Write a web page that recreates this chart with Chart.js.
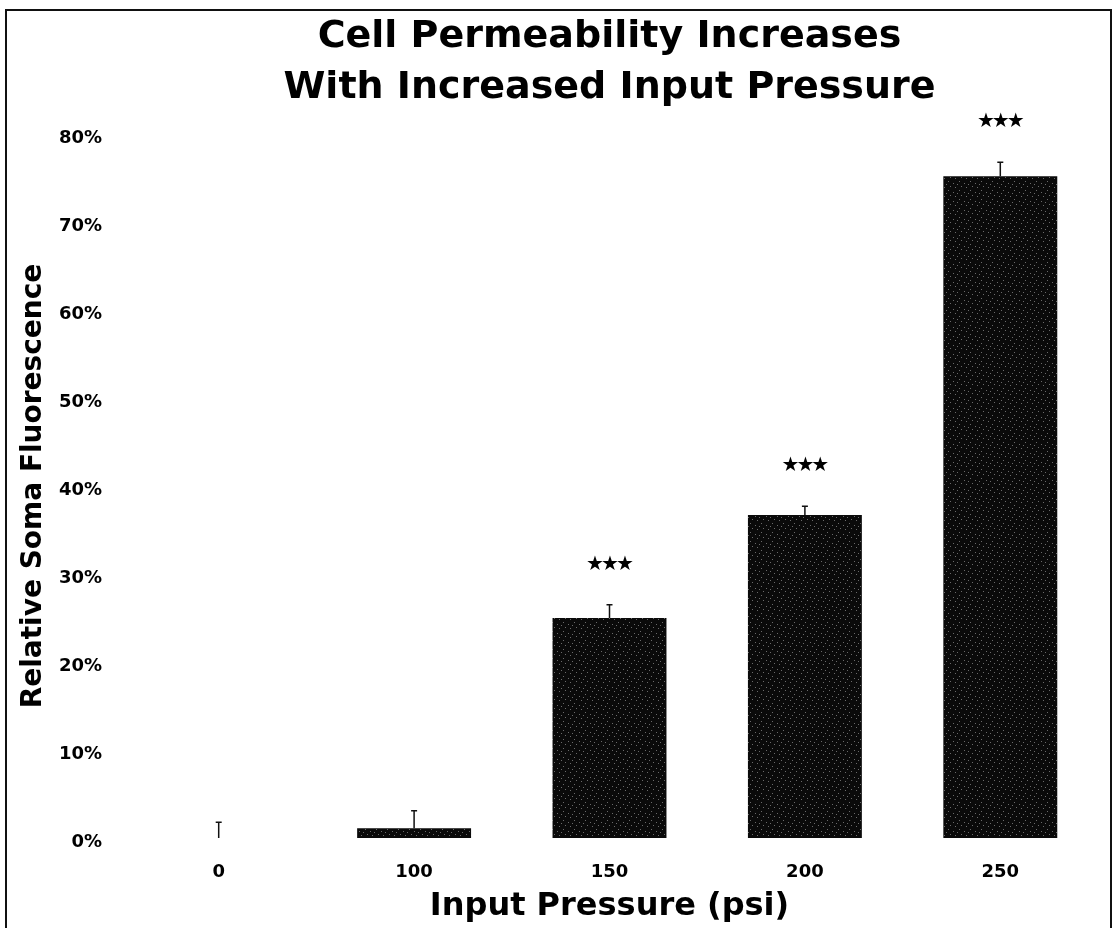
<!DOCTYPE html>
<html>
<head>
<meta charset="utf-8">
<title>Cell Permeability Increases With Increased Input Pressure</title>
<script src="https://cdn.jsdelivr.net/npm/chart.js@4"></script>
<style>
  html, body { margin: 0; padding: 0; background: #fff; }
  #wrap { width: 1115px; height: 928px; }
</style>
</head>
<body>
<div id="wrap"><canvas id="permChart" width="1115" height="928"></canvas></div>
<script>
// Data
const pressures = ['0', '100', '150', '200', '250'];
const fluorescence = [0, 1.1, 25.0, 36.7, 75.2];   // % relative soma fluorescence
const errorUp = [1.8, 2.0, 1.5, 1.0, 1.6];          // upper error bar
const significance = ['', '', '★★★', '★★★', '★★★'];
const yTicks = [0, 10, 20, 30, 40, 50, 60, 70, 80];

const FONT = "'DejaVu Sans', 'Liberation Sans', Arial, sans-serif";
const INK = '#000';

// speckled dark fill, like the scanned bars
function speckle() {
    const c = document.createElement('canvas');
    c.width = 11;
    c.height = 9;
    const g = c.getContext('2d');
    g.fillStyle = '#0a0a0a';
    g.fillRect(0, 0, 11, 9);
    g.fillStyle = '#6a6a6a';
    [[2, 1], [7, 3], [4, 6], [9, 7], [0, 4]].forEach(p => g.fillRect(p[0], p[1], 1, 1));
    return g.createPattern(c, 'repeat');
}

// Page frame round the figure
const framePlugin = {
    id: 'frame',
    beforeDraw(chart) {
        const ctx = chart.ctx;
        ctx.save();
        ctx.fillStyle = '#fff';
        ctx.fillRect(0, 0, chart.width, chart.height);
        ctx.strokeStyle = '#111';
        ctx.lineWidth = 2;
        ctx.beginPath();
        ctx.moveTo(6, chart.height);
        ctx.lineTo(6, 10);
        ctx.lineTo(chart.width - 4, 10);
        ctx.lineTo(chart.width - 4, chart.height);
        ctx.stroke();
        ctx.restore();
    }
};

// Upper error bars and significance stars
const errorBarPlugin = {
    id: 'errorBars',
    afterDatasetsDraw(chart) {
        const ctx = chart.ctx;
        const yScale = chart.scales.y;
        const meta = chart.getDatasetMeta(0);
        ctx.save();
        ctx.strokeStyle = '#111';
        ctx.fillStyle = INK;
        ctx.lineWidth = 1.5;
        ctx.font = 'bold 20px ' + FONT;
        ctx.letterSpacing = '-3px';
        ctx.textAlign = 'center';
        ctx.textBaseline = 'middle';
        meta.data.forEach((bar, i) => {
            const base = yScale.getPixelForValue(fluorescence[i]);
            const top = yScale.getPixelForValue(fluorescence[i] + errorUp[i]);
            ctx.beginPath();
            ctx.moveTo(bar.x, base);
            ctx.lineTo(bar.x, top);
            ctx.moveTo(bar.x - 3, top);
            ctx.lineTo(bar.x + 3, top);
            ctx.stroke();
            if (significance[i]) {
                ctx.fillText(significance[i], bar.x - 1, top - 40);
            }
        });
        ctx.restore();
    }
};

const config = {
    type: 'bar',
    data: {
        labels: pressures,
        datasets: [{
            data: fluorescence,
            backgroundColor: speckle(),
            borderWidth: 0,
            categoryPercentage: 1.0,
            barPercentage: 0.583
        }]
    },
    options: {
        responsive: false,
        animation: false,
        layout: { padding: { left: 20, right: 17, top: 0, bottom: 0 } },
        plugins: {
            legend: { display: false },
            tooltip: { enabled: false },
            title: {
                display: true,
                fullSize: false,
                text: ['Cell Permeability Increases', 'With Increased Input Pressure'],
                color: INK,
                font: { family: FONT, size: 38, weight: 'bold', lineHeight: 1.342 },
                padding: { top: 12, bottom: 20 }
            }
        },
        scales: {
            x: {
                grid: { display: false, drawTicks: false },
                border: { display: false },
                ticks: {
                    color: INK,
                    padding: 24,
                    font: { family: FONT, size: 18, weight: 'bold' }
                },
                title: {
                    display: true,
                    text: 'Input Pressure (psi)',
                    color: INK,
                    font: { family: FONT, size: 32, weight: 'bold', lineHeight: 1 },
                    padding: { top: 0, bottom: 5 }
                },
                afterFit(scale) { scale.height = 90; }
            },
            y: {
                min: yTicks[0],
                max: yTicks[yTicks.length - 1],
                grid: { display: false, drawTicks: false },
                border: { display: false },
                afterBuildTicks(scale) {
                    scale.ticks = yTicks.map(v => ({ value: v }));
                },
                ticks: {
                    color: INK,
                    padding: 19,
                    labelOffset: 4,
                    font: { family: FONT, size: 18, weight: 'bold' },
                    callback: v => v + '%'
                },
                title: {
                    display: true,
                    text: 'Relative Soma Fluorescence',
                    color: INK,
                    font: { family: FONT, size: 28, weight: 'bold', lineHeight: 1 },
                    padding: { top: 0, bottom: 0 }
                },
                afterFit(scale) { scale.width = 101; }
            }
        }
    },
    plugins: [framePlugin, errorBarPlugin]
};

window.onload = function () {
    const canvas = document.getElementById('permChart');
    if (canvas) {
        new Chart(canvas.getContext('2d'), config);
    }
};
</script>
</body>
</html>
